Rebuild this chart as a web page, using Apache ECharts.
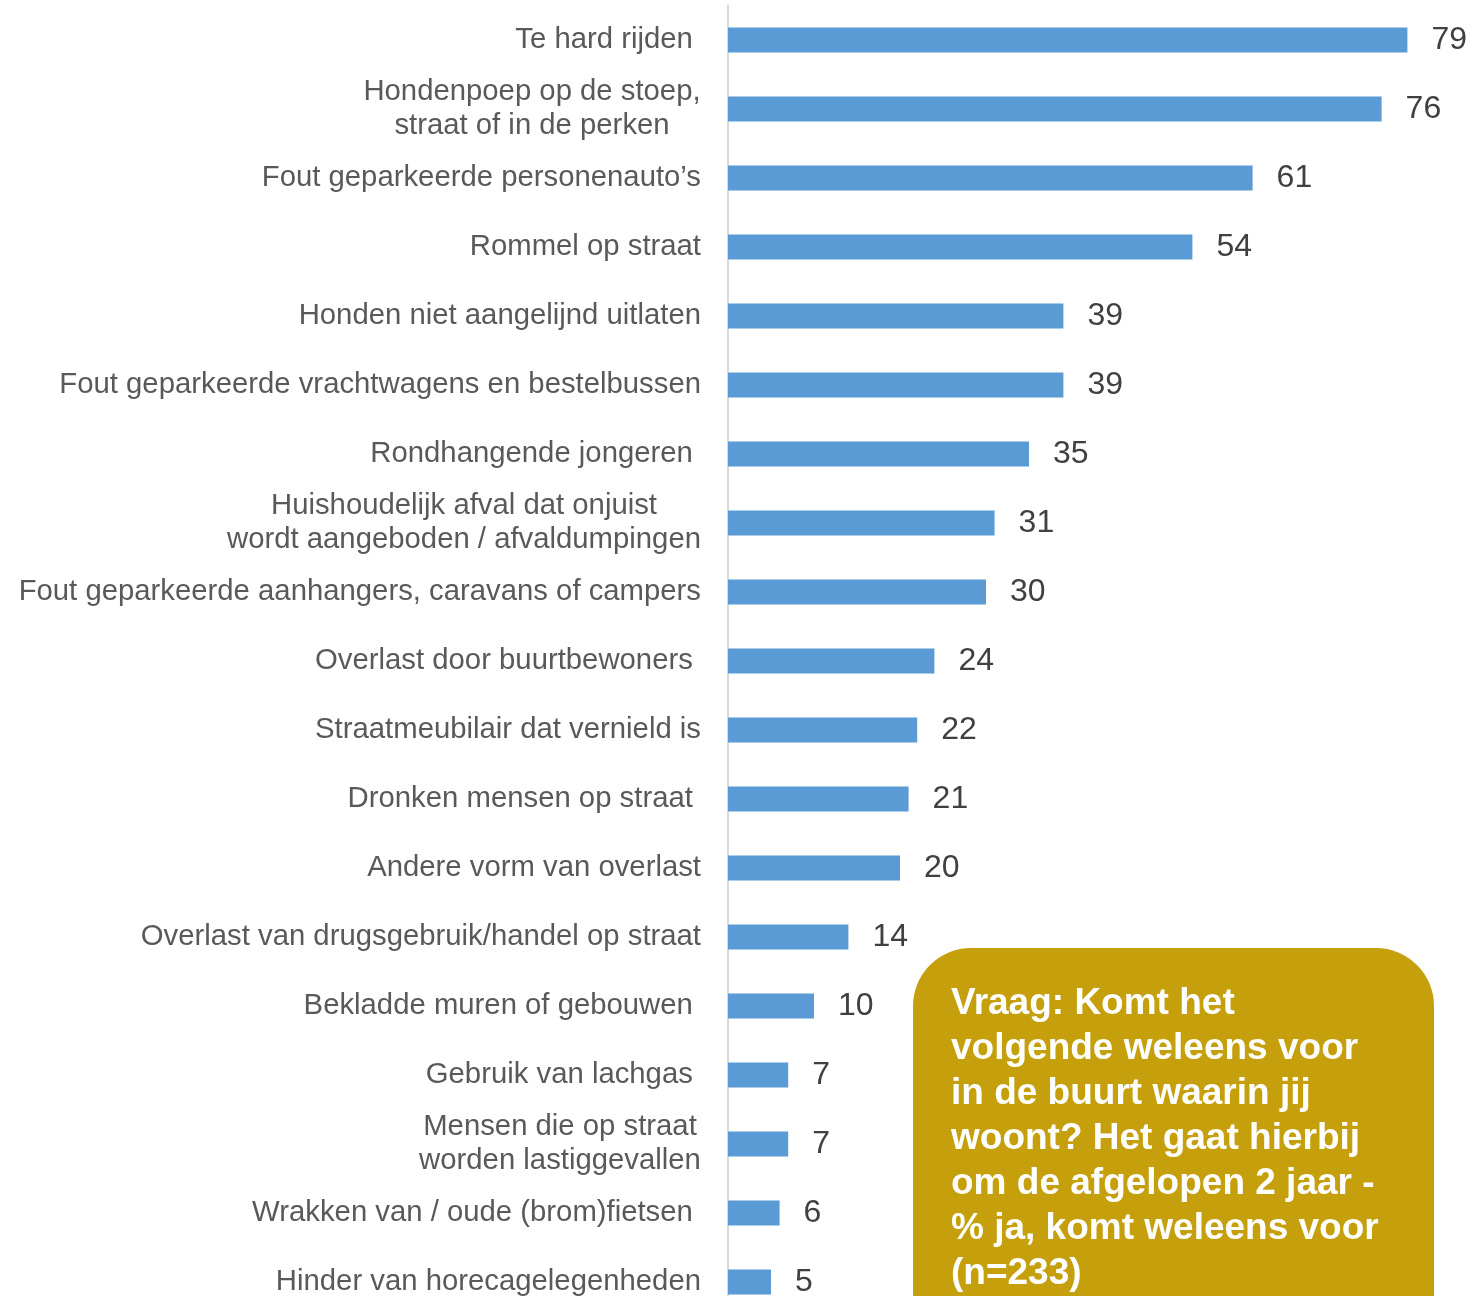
<!DOCTYPE html>
<html>
<head>
<meta charset="utf-8">
<script src="https://cdn.jsdelivr.net/npm/echarts@6/dist/echarts.min.js"></script>
<style>
html,body{margin:0;padding:0;background:#fff;overflow:hidden;}
#chart{width:1473px;height:1330px;}
</style>
</head>
<body>
<div id="chart"></div>
<script>
const categories = [
  "Te hard rijden ",
  "Hondenpoep op de stoep,\nstraat of in de perken",
  "Fout geparkeerde personenauto’s",
  "Rommel op straat",
  "Honden niet aangelijnd uitlaten",
  "Fout geparkeerde vrachtwagens en bestelbussen",
  "Rondhangende jongeren ",
  "Huishoudelijk afval dat onjuist\nwordt aangeboden / afvaldumpingen",
  "Fout geparkeerde aanhangers, caravans of campers",
  "Overlast door buurtbewoners ",
  "Straatmeubilair dat vernield is",
  "Dronken mensen op straat ",
  "Andere vorm van overlast",
  "Overlast van drugsgebruik/handel op straat",
  "Bekladde muren of gebouwen ",
  "Gebruik van lachgas ",
  "Mensen die op straat\nworden lastiggevallen",
  "Wrakken van / oude (brom)fietsen ",
  "Hinder van horecagelegenheden"
];
const values = [79, 76, 61, 54, 39, 39, 35, 31, 30, 24, 22, 21, 20, 14, 10, 7, 7, 6, 5];
const noteText = "Vraag: Komt het\nvolgende weleens voor\nin de buurt waarin jij\nwoont? Het gaat hierbij\nom de afgelopen 2 jaar -\n% ja, komt weleens voor\n(n=233)";

const FF = '"Liberation Sans", Arial, sans-serif';
const LFS = 29.3;
const cv = document.createElement('canvas').getContext('2d');
cv.font = LFS + 'px ' + FF;
const rich = {};
const labelMap = {};
categories.forEach((c, i) => {
  const lines = c.split('\n');
  if (lines.length > 1) {
    const w = Math.ceil(Math.max(...lines.map(l => cv.measureText(l).width)));
    rich['m' + i] = {width: w, align: 'center', fontSize: LFS, lineHeight: 34, color: '#595959', fontFamily: FF};
    labelMap[c] = lines.map(l => '{m' + i + '|' + l + '}').join('\n');
  } else {
    labelMap[c] = c;
  }
});

const chart = echarts.init(document.getElementById('chart'));
chart.setOption({
  animation: false,
  backgroundColor: '#ffffff',
  grid: {left: 728, top: 5.5, height: 1311, width: 731},
  xAxis: {type: 'value', min: 0, max: 85, show: false},
  yAxis: {
    type: 'category', data: categories, inverse: true, offset: 1,
    axisLine: {show: true, lineStyle: {color: '#D9D9D9', width: 2}},
    axisTick: {show: false},
    axisLabel: {
      margin: 26, fontSize: LFS, color: '#595959', lineHeight: 34, fontFamily: FF,
      formatter: v => labelMap[v], rich: rich
    }
  },
  series: [{
    type: 'bar', data: values, barWidth: 25,
    itemStyle: {color: '#5B9BD5'},
    label: {show: true, position: 'right', distance: 24, fontSize: 32, color: '#404040', fontFamily: FF}
  }],
  graphic: [
    {type: 'rect', shape: {x: 913, y: 948, width: 521, height: 420, r: 58},
      style: {fill: '#C5A00C'}, z: 10},
    {type: 'text', x: 951, y: 981, z: 11,
      style: {text: noteText, fill: '#ffffff', font: 'bold 37px ' + FF, lineHeight: 45}}
  ]
});
</script>
</body>
</html>
